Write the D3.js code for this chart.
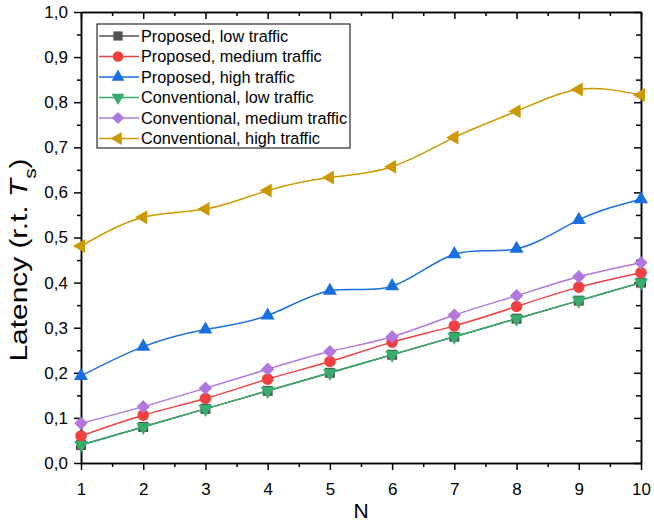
<!DOCTYPE html>
<html>
<head>
<meta charset="utf-8">
<script src="https://cdn.jsdelivr.net/npm/d3@7"></script>
<style>
  html, body { margin: 0; padding: 0; background: #fff; }
  svg { display: block; font-family: "Liberation Sans", Arial, sans-serif; }
</style>
</head>
<body>
<svg id="chart" width="654" height="523"></svg>
<script>
// Number of nodes
const nValues = [1, 2, 3, 4, 5, 6, 7, 8, 9, 10];

// Latency relative to T_s, per scheme and traffic load
const proposedLow       = [0.040, 0.080, 0.120, 0.160, 0.200, 0.240, 0.280, 0.320, 0.360, 0.400];
const proposedMedium    = [0.060, 0.106, 0.143, 0.186, 0.225, 0.268, 0.304, 0.347, 0.390, 0.422];
const proposedHigh      = [0.193, 0.258, 0.296, 0.327, 0.382, 0.392, 0.463, 0.475, 0.539, 0.585];
const conventionalLow   = [0.040, 0.080, 0.120, 0.160, 0.200, 0.240, 0.280, 0.320, 0.360, 0.400];
const conventionalMedium= [0.088, 0.125, 0.166, 0.208, 0.247, 0.280, 0.328, 0.371, 0.413, 0.444];
const conventionalHigh  = [0.481, 0.545, 0.563, 0.604, 0.633, 0.657, 0.722, 0.780, 0.828, 0.816];

const seriesNames = [
  "Proposed, low traffic",
  "Proposed, medium traffic",
  "Proposed, high traffic",
  "Conventional, low traffic",
  "Conventional, medium traffic",
  "Conventional, high traffic"
];
const seriesValues = [proposedLow, proposedMedium, proposedHigh, conventionalLow, conventionalMedium, conventionalHigh];

const xTicks = [1, 2, 3, 4, 5, 6, 7, 8, 9, 10];
const yTicks = [0, 0.1, 0.2, 0.3, 0.4, 0.5, 0.6, 0.7, 0.8, 0.9, 1.0];

// Styling per series
const colors = ["#515151", "#F14040", "#1A6FDF", "#37AD6B", "#B177DE", "#CC9900"];
const markers = [
  { type: d3.symbolSquare,   size: 100, rotate: 0 },
  { type: d3.symbolCircle,   size: 105, rotate: 0 },
  { type: d3.symbolTriangle, size: 85, rotate: 0 },
  { type: d3.symbolTriangle, size: 85, rotate: 180 },
  { type: d3.symbolSquare,   size: 88, rotate: 45 },
  { type: d3.symbolTriangle, size: 85, rotate: -90 }
];

const svg = d3.select("#chart");
const plot = { left: 81, right: 641, top: 12, bottom: 463 };

const x = d3.scaleLinear().domain([1, 10]).range([plot.left, plot.right]);
const y = d3.scaleLinear().domain([0, 1]).range([plot.bottom, plot.top]);

const fmt = d => d3.format(".1f")(d).replace(".", ",");
const xMinor = d3.range(1.5, 10, 1);
const yMinor = d3.range(0.05, 1, 0.1);

function styleAxis(g) {
  g.select(".domain").attr("stroke", "#000").attr("stroke-width", 1.5);
  g.selectAll(".tick line").attr("stroke", "#000").attr("stroke-width", 1.5);
  g.selectAll(".tick text").attr("fill", "#000").style("font-size", "17px")
    .style("font-family", "'Liberation Sans', Arial, sans-serif");
}

// Bottom axis: outward ticks with labels
svg.append("g").attr("transform", `translate(0,${plot.bottom})`)
  .call(d3.axisBottom(x).tickValues(xTicks).tickFormat(d3.format("d")).tickSize(7).tickPadding(13).tickSizeOuter(0))
  .call(styleAxis);
svg.append("g").attr("transform", `translate(0,${plot.bottom})`)
  .call(d3.axisBottom(x).tickValues(xMinor).tickFormat("").tickSize(4).tickSizeOuter(0))
  .call(styleAxis);

// Left axis
svg.append("g").attr("transform", `translate(${plot.left},0)`)
  .call(d3.axisLeft(y).tickValues(yTicks).tickFormat(fmt).tickSize(7).tickPadding(6).tickSizeOuter(0))
  .call(styleAxis);
svg.append("g").attr("transform", `translate(${plot.left},0)`)
  .call(d3.axisLeft(y).tickValues(yMinor).tickFormat("").tickSize(4).tickSizeOuter(0))
  .call(styleAxis);

// Top axis: inward ticks
svg.append("g").attr("transform", `translate(0,${plot.top})`)
  .call(d3.axisTop(x).tickValues(xTicks).tickFormat("").tickSize(-7).tickSizeOuter(0))
  .call(styleAxis);
svg.append("g").attr("transform", `translate(0,${plot.top})`)
  .call(d3.axisTop(x).tickValues(xMinor).tickFormat("").tickSize(-4).tickSizeOuter(0))
  .call(styleAxis);

// Right axis: inward ticks
svg.append("g").attr("transform", `translate(${plot.right},0)`)
  .call(d3.axisRight(y).tickValues(yTicks).tickFormat("").tickSize(-7).tickSizeOuter(0))
  .call(styleAxis);
svg.append("g").attr("transform", `translate(${plot.right},0)`)
  .call(d3.axisRight(y).tickValues(yMinor).tickFormat("").tickSize(-5).tickSizeOuter(0))
  .call(styleAxis);

// Series: smooth spline through the points, then markers
const line = d3.line().x((d, i) => x(nValues[i])).y(d => y(d)).curve(d3.curveNatural);

seriesValues.forEach((vals, s) => {
  const g = svg.append("g");
  g.append("path").datum(vals)
    .attr("d", line)
    .attr("fill", "none")
    .attr("stroke", colors[s])
    .attr("stroke-width", 1.5);
  const sym = d3.symbol().type(markers[s].type).size(markers[s].size);
  g.selectAll("path.m").data(vals).join("path")
    .attr("class", "m")
    .attr("d", sym)
    .attr("fill", colors[s])
    .attr("transform", (d, i) => `translate(${x(nValues[i])},${y(d)}) rotate(${markers[s].rotate})`);
});

// Legend
const legend = { x: 97, y: 24, w: 253, h: 124, row0: 36, step: 20.5 };
svg.append("rect")
  .attr("x", legend.x).attr("y", legend.y)
  .attr("width", legend.w).attr("height", legend.h)
  .attr("fill", "#fff").attr("stroke", "#000").attr("stroke-width", 1);

seriesNames.forEach((name, s) => {
  const cy = legend.row0 + s * legend.step;
  const g = svg.append("g");
  g.append("line").attr("x1", 99).attr("x2", 139).attr("y1", cy).attr("y2", cy)
    .attr("stroke", colors[s]).attr("stroke-width", 1.5);
  g.append("path")
    .attr("d", d3.symbol().type(markers[s].type).size(markers[s].size * 0.85))
    .attr("fill", colors[s])
    .attr("transform", `translate(118,${cy}) rotate(${markers[s].rotate})`);
  g.append("text").attr("x", 141).attr("y", cy + 5.5)
    .style("font-size", "16.3px").attr("fill", "#000").text(name);
});

// Axis titles
svg.append("text")
  .attr("x", (plot.left + plot.right) / 2).attr("y", 518)
  .attr("text-anchor", "middle").style("font-size", "21px").text("N");

const yTitle = svg.append("text")
  .attr("transform", "translate(27,260) rotate(-90)")
  .attr("text-anchor", "middle")
  .attr("textLength", 203).attr("lengthAdjust", "spacingAndGlyphs")
  .style("font-size", "23px");
yTitle.append("tspan").text("Latency (r.t. ");
yTitle.append("tspan").style("font-style", "italic").text("T");
yTitle.append("tspan").attr("baseline-shift", "sub").style("font-size", "16px").text("s");
yTitle.append("tspan").text(")");
</script>
</body>
</html>
